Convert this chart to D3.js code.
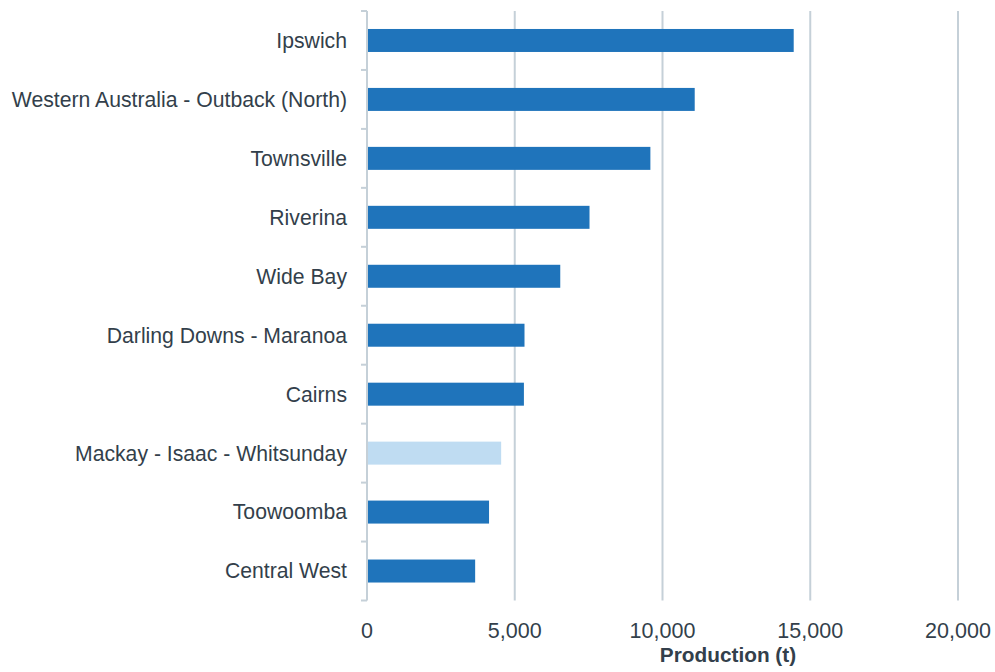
<!DOCTYPE html>
<html><head><meta charset="utf-8">
<script src="https://cdn.jsdelivr.net/npm/d3@7"></script>
<style>
body{margin:0;background:#fff;}
svg{display:block;font-family:"Liberation Sans",Arial,sans-serif;}
</style></head>
<body>
<svg id="chart" width="995" height="672"></svg>
<script>
const categories = ["Ipswich","Western Australia - Outback (North)","Townsville","Riverina","Wide Bay","Darling Downs - Maranoa","Cairns","Mackay - Isaac - Whitsunday","Toowoomba","Central West"];
const values = [14440, 11090, 9590, 7530, 6540, 5330, 5310, 4540, 4130, 3660];
const highlighted = ["Mackay - Isaac - Whitsunday"];
const xTicks = [0, 5000, 10000, 15000, 20000];
const xTitle = "Production (t)";

(function(){
const svg = d3.select("#chart");
const pLeft = 367, pRight = 958, pTop = 11, pBottom = 600.5;
const textColor = "#333f4b", gridColor = "#c5d0d8";

const x = d3.scaleLinear().domain([0, 20000]).range([pLeft, pRight]);
const y = d3.scaleBand().domain(categories).range([pTop, pBottom]).paddingInner(0.61).paddingOuter(0.305);
const yOuter = d3.scaleBand().domain(categories).range([pTop, pBottom]);

// gridlines
svg.append("g").selectAll("line").data(xTicks.filter(d => d > 0)).join("line")
  .attr("x1", d => x(d)).attr("x2", d => x(d))
  .attr("y1", pTop).attr("y2", pBottom)
  .attr("stroke", gridColor).attr("stroke-width", 2);

// bars
svg.append("g").selectAll("rect").data(categories).join("rect")
  .attr("x", x(0))
  .attr("y", d => y(d))
  .attr("width", (d, i) => x(values[i]) - x(0))
  .attr("height", y.bandwidth())
  .attr("fill", d => highlighted.includes(d) ? "#bfdcf2" : "#1f74bb");

// y axis line and ticks
const yAxis = svg.append("g");
yAxis.append("line").attr("x1", pLeft).attr("x2", pLeft).attr("y1", pTop).attr("y2", pBottom)
  .attr("stroke", gridColor).attr("stroke-width", 2);
const bounds = categories.map(c => yOuter(c)).concat([pBottom]);
yAxis.selectAll("line.tk").data(bounds).join("line").attr("class","tk")
  .attr("x1", pLeft - 6).attr("x2", pLeft).attr("y1", d => d).attr("y2", d => d)
  .attr("stroke", gridColor).attr("stroke-width", 2);
yAxis.selectAll("text").data(categories).join("text")
  .attr("x", 347).attr("y", d => y(d) + y.bandwidth() / 2)
  .attr("dy", "0.35em").attr("text-anchor", "end")
  .attr("font-size", 21.2).attr("fill", textColor).text(d => d);

// x axis labels
svg.append("g").selectAll("text").data(xTicks).join("text")
  .attr("x", d => x(d)).attr("y", 637.5)
  .attr("text-anchor", "middle").attr("font-size", 21.5).attr("fill", textColor)
  .text(d => d3.format(",")(d));

svg.append("text").attr("x", 728).attr("y", 662).attr("text-anchor", "middle")
  .attr("font-size", 20.8).attr("font-weight", "bold").attr("fill", textColor).text(xTitle);
})();
</script>
</body></html>
